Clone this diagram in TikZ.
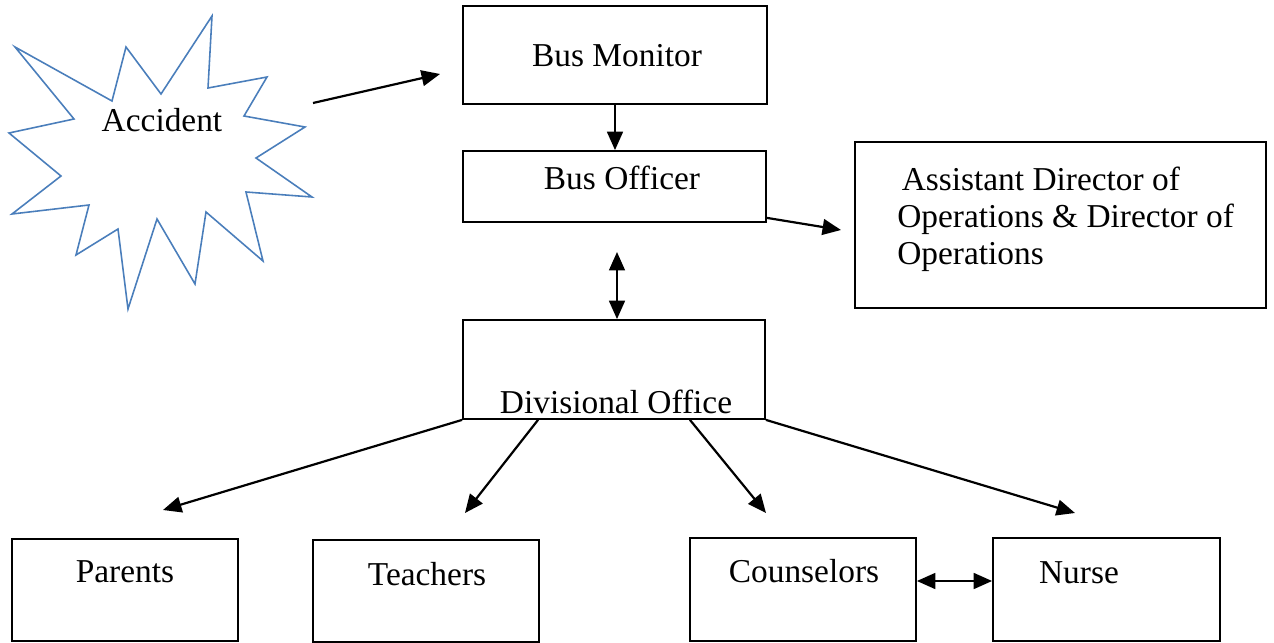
\documentclass[tikz,border=0pt]{standalone}
\usepackage{fontspec}
\setmainfont{Liberation Serif}
\usetikzlibrary{arrows.meta,calc}
\definecolor{starblue}{RGB}{74,126,187}
\tikzset{
  box/.style={draw, line width=1pt, rectangle, inner sep=0pt},
  txt/.style={font=\fontsize{19}{21}\selectfont, inner sep=0pt},
  link/.style={line width=1.25pt, -{Triangle[length=10.5pt,width=9pt]}},
  twolink/.style={line width=1.25pt, {Triangle[length=10.5pt,width=9pt]}-{Triangle[length=10.5pt,width=9pt]}},
}
\begin{document}
\begin{tikzpicture}[x=0.2mm, y=-0.2mm]
  \useasboundingbox (0,0) rectangle (1274,643);
  % accident burst
  \draw[starblue, line width=0.9pt]
    (15,47) -- (112,101) -- (126,47) -- (161,94) -- (212,16) -- (208,88)
    -- (267,77) -- (244,116) -- (305,127) -- (256,158) -- (312,197)
    -- (246,192) -- (263,261) -- (206,212) -- (195,284) -- (157,219)
    -- (128,309) -- (118,229) -- (76,255) -- (89,205) -- (12,214)
    -- (61,176) -- (9,133) -- (74,119) -- cycle;
  \node[txt] (accident) at (162,120) {Accident};
  \coordinate (accident-out) at (313,103);

  % boxes
  \node[box, minimum width=60.8mm, minimum height=19.6mm] (monitor) at (615,55) {};
  \node[txt] (monitor-t) at (617,56) {Bus Monitor};
  \node[box, minimum width=60.6mm, minimum height=14.2mm] (officer) at (614.5,186.5) {};
  \node[txt] (officer-t) at (622,178) {Bus Officer};
  \node[box, minimum width=82.2mm, minimum height=33.2mm] (director) at (1060.5,225) {};
  \node[txt, anchor=west, align=left] (director-t) at (897,219)
    {\hspace{2.5pt}Assistant Director of\\Operations \& Director of\\Operations};
  \node[box, minimum width=60.4mm, minimum height=19.8mm] (division) at (614,369.5) {};
  \node[txt] (division-t) at (616,402) {Divisional Office};

  \node[box, minimum width=45.2mm, minimum height=20.4mm] (parents) at (125,590) {};
  \node[txt] (parents-t) at (125,572) {Parents};
  \node[box, minimum width=45.2mm, minimum height=20.4mm] (teachers) at (426,591) {};
  \node[txt] (teachers-t) at (427,574) {Teachers};
  \node[box, minimum width=45.2mm, minimum height=20.6mm] (counselors) at (803,589.5) {};
  \node[txt] (counselors-t) at (804,571) {Counselors};
  \node[box, minimum width=45.4mm, minimum height=20.6mm] (nurse) at (1106.5,589.5) {};
  \node[txt] (nurse-t) at (1079,573) {Nurse};

  % free arrow ends
  \coordinate (monitor-in) at (440,74);
  \coordinate (director-in) at (841,230);
  \coordinate (officer-in) at (617,252);
  \coordinate (parents-in) at (163,510);
  \coordinate (teachers-in) at (465,513);
  \coordinate (counselors-in) at (766,513);
  \coordinate (nurse-in) at (1075,513);

  % connectors
  \draw[link] (accident-out) -- (monitor-in);
  \draw[link] (monitor.south) -- (monitor.south |- officer.north);
  \draw[link] ([yshift=1mm]officer.south east) -- (director-in);
  \draw[twolink] (officer-in) -- (officer-in |- division.north);
  \draw[link] (division.south west) -- (parents-in);
  \draw[link] ($(division.south west)!0.25!(division.south east)$) -- (teachers-in);
  \draw[link] ($(division.south west)!0.75!(division.south east)$) -- (counselors-in);
  \draw[link] (division.south east) -- (nurse-in);
  \draw[twolink] ([yshift=1.7mm]counselors.east) -- ([yshift=1.7mm]nurse.west);
\end{tikzpicture}
\end{document}
